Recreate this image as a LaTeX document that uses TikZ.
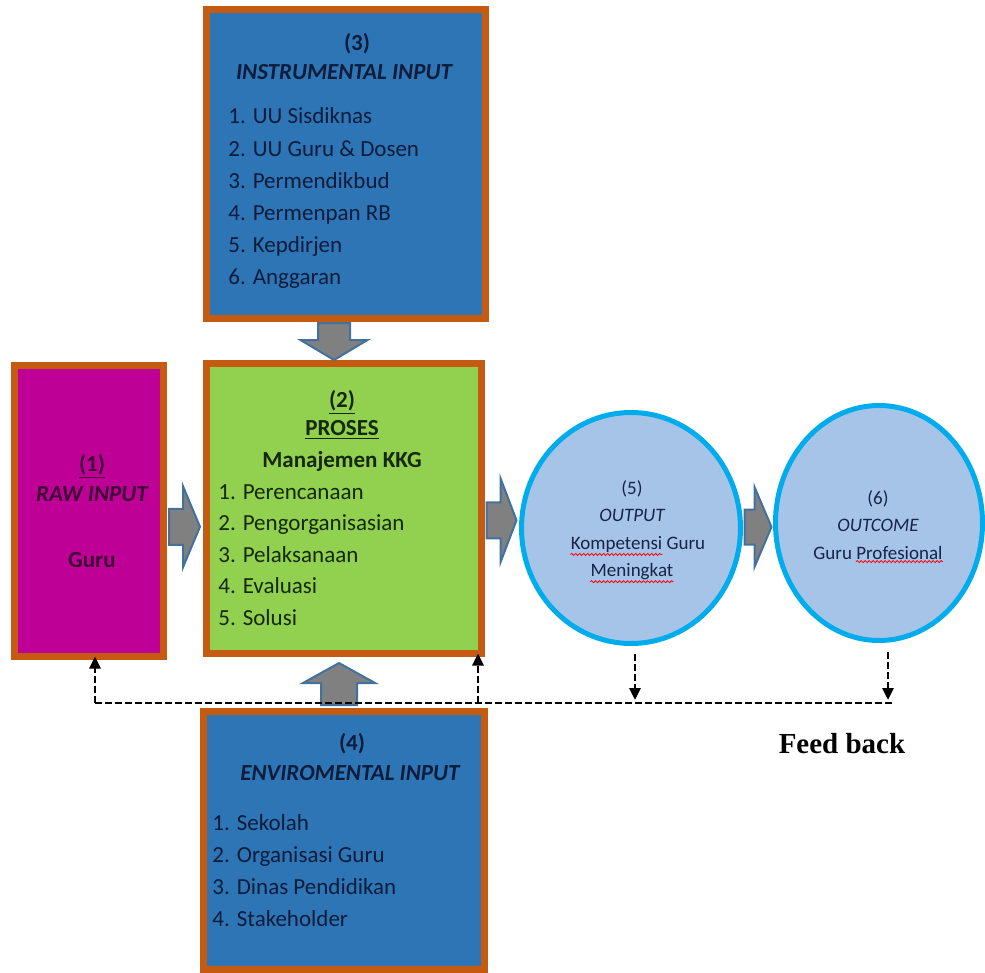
\documentclass[tikz,border=0pt]{standalone}
\usepackage{fontspec}
\setmainfont{Carlito}
\newfontfamily\fbfont{Liberation Serif}
\usepackage{tikz}
\usetikzlibrary{shapes.geometric,arrows.meta,positioning,calc,decorations.pathmorphing}
\definecolor{boxorange}{RGB}{197,90,17}
\definecolor{instrblue}{RGB}{46,117,182}
\definecolor{rawmagenta}{RGB}{190,0,150}
\definecolor{procgreen}{RGB}{146,208,80}
\definecolor{ringblue}{RGB}{0,172,236}
\definecolor{ringfill}{RGB}{166,196,232}
\definecolor{arrowgray}{RGB}{128,128,128}
\definecolor{arrowline}{RGB}{65,113,156}
\definecolor{bluetext}{RGB}{12,28,58}
\definecolor{greentext}{RGB}{22,40,10}
\definecolor{rawtext}{RGB}{62,0,52}
\definecolor{circtext}{RGB}{22,36,70}

% block arrow: centre, angle, length, shaft, head width, head length
\newcommand{\blockarrow}[6]{%
  \draw[blockarr, shift={#1}, rotate=#2]
    ({-#3/2},{-#4/2}) -- ({#3/2-#6},{-#4/2}) -- ({#3/2-#6},{-#5/2}) -- ({#3/2},0)
    -- ({#3/2-#6},{#5/2}) -- ({#3/2-#6},{#4/2}) -- ({-#3/2},{#4/2}) -- cycle;}

\begin{document}
\begin{tikzpicture}[
        x=0.5pt, y=-0.5pt,
        every node/.style={font=\fontsize{11.5}{15}\selectfont, inner sep=0pt},
        box/.style={rectangle, draw=boxorange, line width=3.5pt},
        result/.style={ellipse, draw=ringblue, fill=ringfill, line width=2.5pt},
        title/.style={anchor=base, font=\fontsize{11.5}{15}\selectfont\bfseries},
        ititle/.style={anchor=base, font=\fontsize{11.5}{15}\selectfont\bfseries\itshape},
        item/.style={anchor=base west},
        rline/.style={anchor=base, text=circtext, font=\fontsize{9.5}{12}\selectfont},
        spell/.style={red, line width=0.4pt, decorate, decoration={snake, amplitude=0.5pt, segment length=2pt}},
        blockarr/.style={draw=arrowline, fill=arrowgray, line width=1pt, line join=miter},
        feedback/.style={line width=1.4pt, dash pattern=on 3.5pt off 1.5pt},
        fbtip/.style={-{Triangle[length=6pt,width=5.5pt]}}
    ]
        \useasboundingbox (0,0) rectangle (985,973);

        % boxes
        \node[box, fill=instrblue, minimum width=139.5pt, minimum height=154.5pt] (instr) at (346,164) {};
        \node[box, fill=rawmagenta, minimum width=74.5pt, minimum height=145.5pt] (raw) at (89,511) {};
        \node[box, fill=procgreen, minimum width=137.5pt, minimum height=145pt] (proses) at (344,508.5) {};
        \node[box, fill=instrblue, minimum width=140.5pt, minimum height=129pt] (envir) at (344,840.5) {};
        \node[result, minimum width=109.5pt, minimum height=115.5pt] (out5) at (631,528) {};
        \node[result, minimum width=103.5pt, minimum height=117.5pt] (out6) at (879,523) {};

        % (3) instrumental input
        \node[title, text=bluetext] (instr-no) at (357,51) {(3)};
        \node[ititle, text=bluetext] (instr-name) at (344,80) {INSTRUMENTAL INPUT};
        \foreach \t [count=\i] in {UU Sisdiknas, UU Guru \& Dosen, Permendikbud, Permenpan RB, Kepdirjen, Anggaran}
            \node[item, text=bluetext] (instr-\i) at (228,{124+(\i-1)*32.2}) {\i. \t};

        % (1) raw input
        \node[title, text=rawtext] (raw-no) at (92,471) {\underline{(1)}};
        \node[ititle, text=rawtext] (raw-name) at (92,501) {RAW INPUT};
        \node[title, text=rawtext] (raw-guru) at (92,567) {Guru};

        % (2) proses
        \node[title, text=greentext] (proses-no) at (342,407) {\underline{(2)}};
        \node[title, text=greentext] (proses-name) at (342,435) {\underline{PROSES}};
        \node[title, text=greentext] (proses-kkg) at (342,467) {Manajemen KKG};
        \foreach \t [count=\i] in {Perencanaan, Pengorganisasian, Pelaksanaan, Evaluasi, Solusi}
            \node[item, text=greentext] (proses-\i) at (218,{499+(\i-1)*31.5}) {\i. \t};

        % (4) enviromental input
        \node[title, text=bluetext] (envir-no) at (352,750) {(4)};
        \node[ititle, text=bluetext] (envir-name) at (350,780) {ENVIROMENTAL INPUT};
        \foreach \t [count=\i] in {Sekolah, Organisasi Guru, Dinas Pendidikan, Stakeholder}
            \node[item, text=bluetext] (envir-\i) at (212,{830+(\i-1)*32.3}) {\i. \t};

        % (5) output
        \node[rline] (out5-no) at (632,494) {(5)};
        \node[rline, font=\fontsize{9.5}{12}\selectfont\itshape] (out5-name) at (632,521) {OUTPUT};
        \node[rline] (out5-a) at (638,549) {Kompetensi Guru};
        \node[rline] (out5-b) at (632,576) {Meningkat};
        \draw[spell] ([yshift=-1pt]out5-a.south west) -- ([yshift=-1pt]$(out5-a.south west)!0.68!(out5-a.south east)$);
        \draw[spell] ([yshift=-1pt]out5-b.south west) -- ([yshift=-1pt]out5-b.south east);

        % (6) outcome
        \node[rline] (out6-no) at (878,504) {(6)};
        \node[rline, font=\fontsize{9.5}{12}\selectfont\itshape] (out6-name) at (878,531) {OUTCOME};
        \node[rline] (out6-a) at (878,559) {Guru Profesional};
        \draw[spell] ([yshift=-1pt]$(out6-a.south west)!0.33!(out6-a.south east)$) -- ([yshift=-1pt]out6-a.south east);

        % block arrows
        \blockarrow{($(instr.south)!.5!(proses.north)+(-11,0.5)$)}{-90}{37}{32}{67}{20}
        \blockarrow{($(envir.north)!.5!(proses.south)+(-5,1.5)$)}{90}{42}{36}{72}{20}
        \blockarrow{($(raw.east)!.5!(proses.west)+(-0.5,17)$)}{0}{31}{36}{81}{17}
        \blockarrow{($(proses.east)!.5!(out5.west)+(-0.5,2)$)}{0}{30}{36}{84}{16}
        \blockarrow{($(out5.east)!.5!(out6.west)+(0,1.5)$)}{0}{27}{35}{80}{17}

        % feed back
        \coordinate (fb-raw) at (95,703);
        \coordinate (fb-proses) at (478,703);
        \coordinate (fb-out5) at (635,703);
        \coordinate (fb-out6) at (888,703);
        \draw[feedback] (fb-raw) -- ([xshift=2.5pt]fb-out6);
        \draw[feedback, fbtip, shorten >=-1.75pt] (fb-raw) -- (fb-raw |- raw.south);
        \draw[feedback, fbtip, shorten >=-1.75pt] (fb-proses) -- (fb-proses |- proses.south);
        \draw[feedback, fbtip, shorten <=4pt, shorten >=1.5pt] (fb-out5 |- out5.south) -- (fb-out5);
        \draw[feedback, fbtip, shorten <=4.5pt, shorten >=1.5pt] (fb-out6 |- out6.south) -- (fb-out6);
        \node[anchor=base, font=\fbfont\bfseries\fontsize{14.5}{17}\selectfont] (fb-label) at (842,753) {Feed back};
    \end{tikzpicture}
\end{document}
